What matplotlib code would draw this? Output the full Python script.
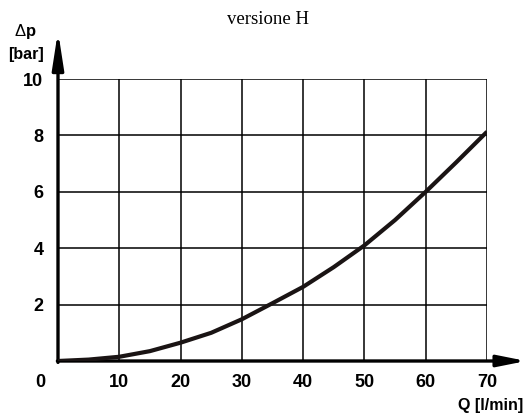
import matplotlib
matplotlib.use("Agg")
import matplotlib.pyplot as plt

# values
flow = [0, 5, 10, 15, 20, 25, 30, 35, 40, 45, 50, 55, 60, 65, 70]
dp = [0, 0.05, 0.15, 0.35, 0.65, 1.0, 1.48, 2.05, 2.63, 3.33, 4.1, 5.0, 6.0, 7.05, 8.13]
x_ticks = [10, 20, 30, 40, 50, 60, 70]
y_ticks = [2, 4, 6, 8, 10]


def main():
    fig = plt.figure(figsize=(5.25, 4.15), dpi=100)
    ax = fig.add_axes([58 / 525, 1 - 361 / 415, 429 / 525, 282 / 415])
    ax.set_xlim(0, 70)
    ax.set_ylim(0, 10)

    for s in ax.spines.values():
        s.set_visible(False)

    # grid
    for x in x_ticks:
        ax.plot([x, x], [0, 10], color="black", lw=1.1, solid_capstyle="butt")
    for y in y_ticks:
        ax.plot([0, 70], [y, y], color="black", lw=1.1, solid_capstyle="butt")

    # axes with arrows
    arrow = dict(arrowstyle="-|>,head_length=1.1,head_width=0.17", lw=2.4,
                 color="black", mutation_scale=20, shrinkA=0, shrinkB=0)
    ax.annotate("", xy=(0, 11.7), xytext=(0, -0.05), arrowprops=arrow,
                annotation_clip=False)
    arrow_x = dict(arrow, arrowstyle="-|>,head_length=0.85,head_width=0.17")
    ax.annotate("", xy=(76.4, 0), xytext=(-0.1, 0), arrowprops=arrow_x,
                annotation_clip=False)

    ax.plot(flow, dp, color="#1a1414", lw=3.0, solid_capstyle="butt",
            solid_joinstyle="round", zorder=5)

    tick_font = dict(family="Liberation Sans", weight="bold", size=13)
    ax.set_xticks(x_ticks)
    ax.set_xticklabels([str(v) for v in x_ticks], **tick_font)
    ax.set_yticks(y_ticks)
    ax.set_yticklabels([str(v) for v in y_ticks], **tick_font)
    ax.tick_params(length=0, pad=9)
    ax.tick_params(axis="y", pad=10.5)
    fig.text(40 / 525, 1 - 382 / 415, "0", ha="center", va="center",
             **tick_font)

    fig.text(268 / 525, 1 - 19 / 415, "versione H", ha="center", va="center",
             family="Liberation Serif", size=13.5)
    fig.text(26 / 525, 1 - 36 / 415, "\u0394", ha="right", va="baseline",
             family="Liberation Sans", size=12)
    fig.text(26 / 525, 1 - 36 / 415, "p", ha="left", va="baseline",
             family="Liberation Sans", weight="bold", size=12)
    fig.text(44 / 525, 1 - 55 / 415, "[bar]", ha="right", va="center",
             family="Liberation Sans", weight="bold", size=11.5)
    fig.text(523 / 525, 1 - 405 / 415, "Q [l/min]", ha="right", va="center",
             family="Liberation Sans", weight="bold", size=11.5)

    fig.savefig("out.png", dpi=100)


if __name__ == "__main__":
    main()
